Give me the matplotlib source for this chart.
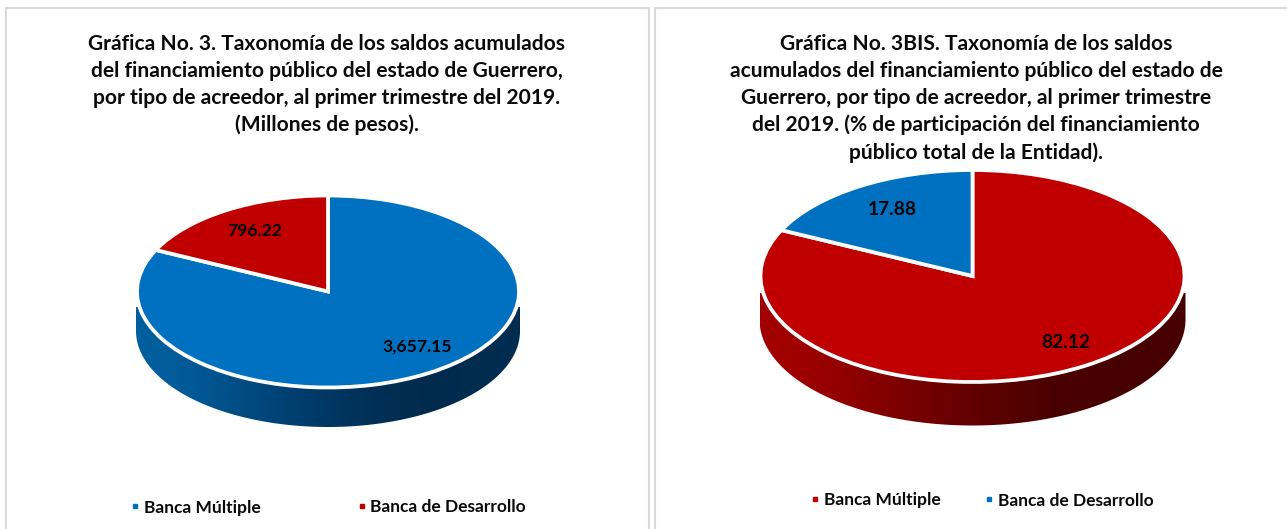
import matplotlib
matplotlib.use('Agg')
import matplotlib.pyplot as plt
import numpy as np
from matplotlib.lines import Line2D
from matplotlib.patches import Rectangle, Polygon

W, H = 1287, 529

titulo_1 = ("Gráfica No. 3. Taxonomía de los saldos acumulados\n"
            "del financiamiento público del estado de Guerrero,\n"
            "por tipo de acreedor, al primer trimestre del 2019.\n"
            "(Millones de pesos).")
titulo_2 = ("Gráfica No. 3BIS. Taxonomía de los saldos\n"
            "acumulados del financiamiento público del estado de\n"
            "Guerrero, por tipo de acreedor, al primer trimestre\n"
            "del 2019. (% de participación del financiamiento\n"
            "público total de la Entidad).")

acreedores = ['Banca Múltiple', 'Banca de Desarrollo']
saldos = [3657.15, 796.22]
porcentajes = [82.12, 17.88]

azul = '#0070C0'
rojo = '#C00000'

plt.rcParams['font.family'] = ['Lato', 'DejaVu Sans']
plt.rcParams['font.weight'] = 'bold'

fig = plt.figure(figsize=(W / 100, H / 100), dpi=100)
fondo = fig.add_axes([0, 0, 1, 1])
fondo.set_xlim(0, W)
fondo.set_ylim(H, 0)
fondo.axis('off')
# marcos de cada grafica
fondo.add_patch(Rectangle((6, 8), 643, 530, fc='white', ec='#d9d9d9', lw=1.5))
fondo.add_patch(Rectangle((655, 8), 640, 530, fc='white', ec='#d9d9d9', lw=1.5))


def pastel(valores, colores, cx, cy, rx, ry, fondo_y, pared_y, cols, fmt, tam, pos):
    """Pastel "3D": ellipse top + wall with a gradient. Sizes in pixels."""
    x0, x1 = -1.1, 1.1
    y0, y1 = -1.75, 1.1
    ax = fig.add_axes([(cx + x0 * rx) / W, 1 - (cy - y0 * ry) / H,
                       (x1 - x0) * rx / W, (y1 - y0) * ry / H])
    ax.patch.set_alpha(0)

    # pared lateral
    rx_p = (rx + 1) / rx
    yc = -(fondo_y - ry - cy) / ry
    yp = -(pared_y - cy) / ry
    t = np.linspace(np.pi, 2 * np.pi, 200)
    borde = np.column_stack([rx_p * np.cos(t), yc + np.sin(t)])
    borde = np.vstack([[-rx_p, yp], borde, [rx_p, yp]])
    degradado = np.array([cols]).reshape(1, -1, 3)
    img = ax.imshow(degradado, extent=(-rx_p, rx_p, yc - 1.1, yp), aspect='auto',
                    interpolation='bicubic', zorder=1)
    img.set_clip_path(Polygon(borde, transform=ax.transData))

    total = sum(valores)
    wedges, texts, autotexts = ax.pie(
        valores, colors=colores, startangle=90, counterclock=False,
        autopct=lambda p: fmt.format(p * total / 100), radius=1,
        wedgeprops=dict(edgecolor='white', linewidth=2.7, zorder=2),
        textprops=dict(fontsize=tam, fontweight='bold', color='black', zorder=3))
    autotexts[0].set_position(pos[0])
    autotexts[1].set_position(pos[1])
    ax.set_aspect('auto')
    ax.set_xlim(x0, x1)
    ax.set_ylim(y0, y1)
    ax.axis('off')


def hex_rgb(c):
    return matplotlib.colors.to_rgb(c)


def leyenda(colores, x, y, sep):
    marcas = [Line2D([], [], ls='', marker='s', ms=2.6, color=c) for c in colores]
    fig.legend(marcas, acreedores, loc='center', bbox_to_anchor=(x / W, 1 - y / H),
               ncols=2, frameon=False, fontsize=12.5, handlelength=0.6,
               handletextpad=0.2, columnspacing=sep, labelcolor='#0a0a0a')


pastel(saldos, [azul, rojo], 328, 291.5, 191, 96, 427, 307,
       [hex_rgb(c) for c in ['#02609f', '#01497f', '#003763', '#002a4c', '#002d50']],
       '{:,.2f}', 12.6, [(0.465, -0.57), (-0.385, 0.63)])
pastel(porcentajes, [rojo, azul], 972.5, 276, 212, 106, 425.5, 293,
       [hex_rgb(c) for c in ['#a30000', '#800000', '#620000', '#460000', '#480000']],
       '{:.2f}', 13.8, [(0.44, -0.63), (-0.38, 0.63)])

fig.text(327 / W, 1 - 34 / H, titulo_1, ha='center', va='top', fontsize=15.1,
         fontweight='bold', linespacing=1.43, color='#0a0a0a')
fig.text(976 / W, 1 - 34 / H, titulo_2, ha='center', va='top', fontsize=15.1,
         fontweight='bold', linespacing=1.43, color='#0a0a0a')

leyenda([azul, rojo], 328, 507.5, 5.5)
leyenda([rojo, azul], 982, 500.5, 2.5)

fig.savefig('out.png', dpi=100)
